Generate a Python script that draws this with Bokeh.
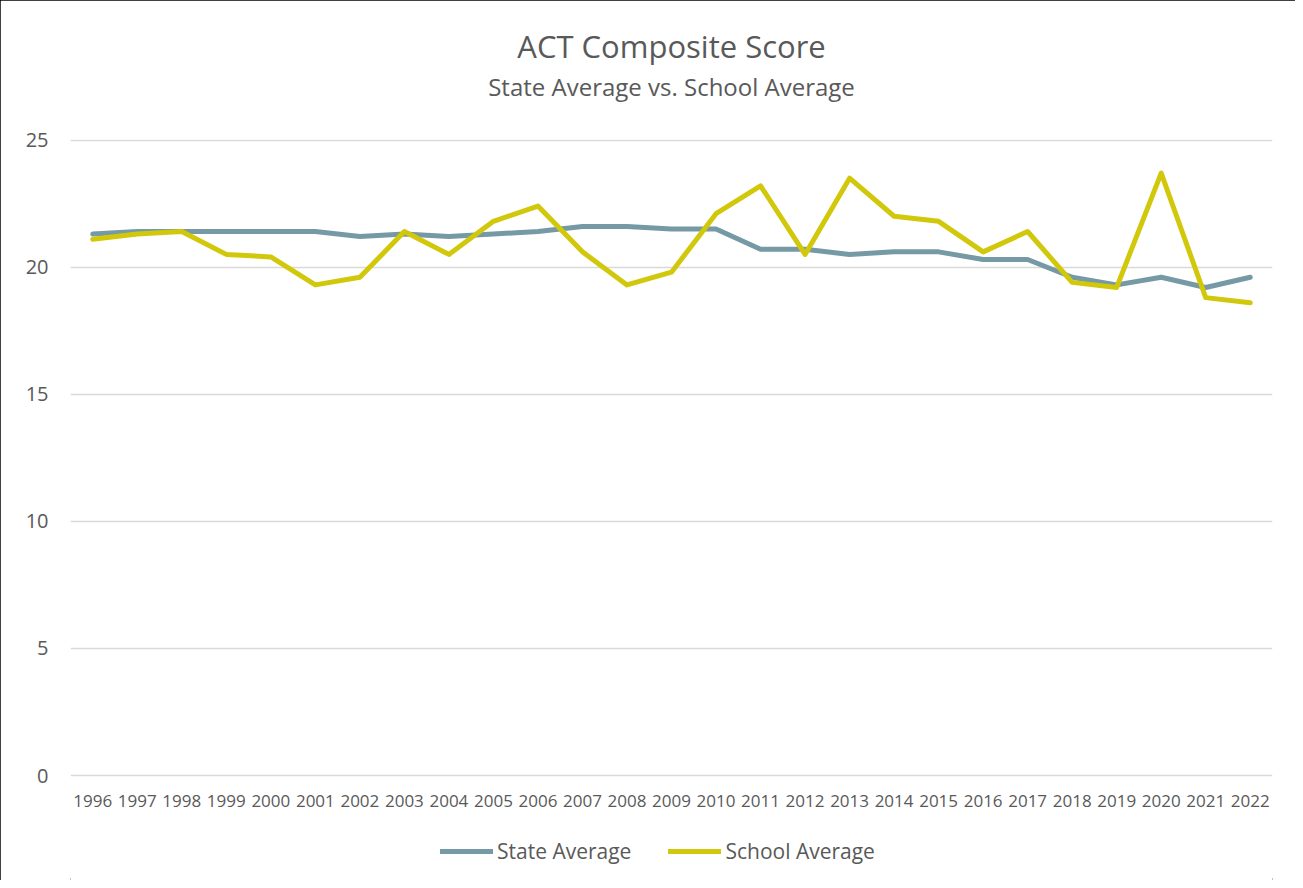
from bokeh.plotting import figure
from bokeh.models import Range1d, Title, Legend, LegendItem, FixedTicker, ColumnDataSource
from bokeh.embed import file_html
from bokeh.resources import INLINE

years = list(range(1996, 2023))
state_avg = [21.3, 21.4, 21.4, 21.4, 21.4, 21.4, 21.2, 21.3, 21.2, 21.3,
             21.4, 21.6, 21.6, 21.5, 21.5, 20.7, 20.7, 20.5, 20.6, 20.6,
             20.3, 20.3, 19.6, 19.3, 19.6, 19.2, 19.6]
school_avg = [21.1, 21.3, 21.4, 20.5, 20.4, 19.3, 19.6, 21.4, 20.5, 21.8,
              22.4, 20.6, 19.3, 19.8, 22.1, 23.2, 20.5, 23.5, 22.0, 21.8,
              20.6, 21.4, 19.4, 19.2, 23.7, 18.8, 18.6]
y_ticks = [0, 5, 10, 15, 20, 25]

FONT = "Open Sans"
GRAY = "#595959"

src = ColumnDataSource(dict(year=years, state=state_avg, school=school_avg))

# frame reaches down to the bottom of the window; the x axis is pinned at y=0
p = figure(frame_width=1202, frame_height=741, output_backend="svg",
           toolbar_location=None,
           x_range=Range1d(1995.5, 2022.5), y_range=Range1d(-4.13, 25.02),
           min_border_left=70, min_border_right=23, min_border_top=139,
           min_border_bottom=0)
p.styles = {"outline": "2px solid black", "outline-offset": "-2px"}
p.outline_line_color = None
p.background_fill_color = "white"

p.title.text = "ACT Composite Score"
p.title.align = "center"
p.title.text_font = FONT
p.title.text_font_size = "31px"
p.title.text_color = GRAY
p.title.text_font_style = "normal"
p.title.offset = -17
p.title.standoff = 0

spacer = Title(text=" ", text_font_size="1px", standoff=33)
sub = Title(text="State Average vs. School Average", align="center",
            text_font=FONT, text_font_size="24px", text_color=GRAY,
            text_font_style="normal", offset=-17, standoff=2)
p.add_layout(spacer, "above")
p.add_layout(sub, "above")

r1 = p.line("year", "state", source=src, line_color="#7599A5", line_width=5,
            line_join="round", line_cap="round")
r2 = p.line("year", "school", source=src, line_color="#D2C80B", line_width=5,
            line_join="round", line_cap="round")

p.xaxis.ticker = FixedTicker(ticks=years)
p.xaxis.fixed_location = 0
p.yaxis.ticker = FixedTicker(ticks=y_ticks)
for ax in (p.xaxis[0], p.yaxis[0]):
    ax.axis_line_color = None
    ax.major_tick_line_color = None
    ax.minor_tick_line_color = None
    ax.major_tick_out = 0
    ax.minor_tick_out = 0
    ax.major_label_text_color = GRAY
    ax.major_label_text_font = FONT
p.xaxis.major_label_text_font_size = "17px"
p.xaxis.major_label_standoff = 19
p.yaxis.major_label_text_font_size = "20px"
p.yaxis.major_label_standoff = 22

p.xgrid.grid_line_color = None
p.ygrid.grid_line_color = "#D9D9D9"
p.ygrid.grid_line_width = 1.5

legend = Legend(items=[LegendItem(label="State Average", renderers=[r1]),
                       LegendItem(label="School Average", renderers=[r2])],
                orientation="horizontal", location=(370, 15),
                label_text_font=FONT, label_text_font_size="21px",
                label_text_color=GRAY, glyph_width=53, glyph_height=24,
                label_standoff=4, spacing=37, border_line_color=None,
                background_fill_alpha=0, margin=0, padding=4)
p.add_layout(legend, "center")

open("out.html", "w").write(file_html(p, INLINE))
